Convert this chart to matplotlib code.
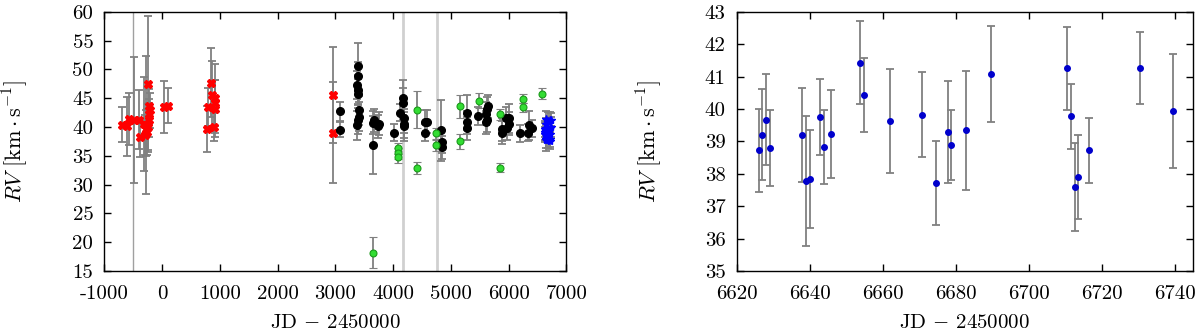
import numpy as np
import matplotlib
matplotlib.use('Agg')
import matplotlib.pyplot as plt

plt.rcParams['font.family'] = ['cmr10', 'DejaVu Serif']
plt.rcParams['mathtext.fontset'] = 'cm'
plt.rcParams['axes.formatter.use_mathtext'] = False
plt.rcParams['axes.unicode_minus'] = False
plt.rcParams['font.size'] = 15

# red (older measurements)
red_x = [-691, -610, -576, -496, -408, -381, -314, -301, -287, -274, -260, -247, -240,
         -234, -227, -220, -207, 29, 96, 782, 802, 849, 869, 903, 909, 916, 923, 2953, 2960]
red_y = [40.4, 40.1, 41.4, 41.2, 41.3, 38.2, 40.5, 38.6, 38.9, 40.3, 39.2, 47.4, 40.0,
         43.6, 41.2, 42.3, 42.9, 43.5, 43.7, 39.7, 43.4, 47.7, 45.5, 40.0, 44.1, 45.0, 43.2, 45.6, 39.0]
red_e = [3.0, 5.1, 4.5, 11.0, 5.2, 3.4, 8.2, 3.5, 4.0, 12.0, 4.0, 11.8, 4.0,
         3.0, 3.0, 2.5, 3.0, 4.5, 3.0, 4.0, 3.3, 6.0, 6.0, 2.5, 4.0, 6.0, 5.0, 8.3, 8.8]

# black
blk_x = [3088, 3088, 3385, 3390, 3380, 3395, 3385, 3400, 3405, 3395, 3380, 3652, 3652, 3668,
         3740, 3760, 4009, 4110, 4177, 4177, 4185, 4180, 4190, 4560, 4580, 4560,
         4836, 4849, 4849, 5286, 5286, 5286, 5467, 5602, 5629, 5642, 5609, 5622,
         5891, 5877, 5958, 5972, 6005, 6011, 6193, 6328, 6361, 6408]
blk_y = [42.7, 39.5, 50.6, 48.8, 47.3, 46.5, 45.8, 42.9, 41.8, 41.3, 40.3, 36.9, 40.7, 41.2,
         40.1, 40.6, 39.0, 42.5, 45.1, 44.2, 41.5, 40.6, 40.1, 40.9, 40.9, 39.0,
         39.4, 37.4, 36.5, 42.5, 40.8, 39.8, 41.9, 42.3, 43.2, 43.6, 40.8, 41.2,
         39.6, 39.0, 41.5, 39.8, 40.6, 41.5, 38.9, 39.0, 40.3, 39.8]
blk_e = [1.6, 1.3, 4.0, 2.5, 2.5, 2.5, 2.5, 2.5, 2.5, 2.5, 2.5, 5.0, 2.0, 2.0,
         2.0, 2.0, 1.5, 1.5, 3.0, 2.5, 2.5, 2.5, 2.5, 2.0, 2.0, 1.5,
         5.3, 2.0, 2.0, 3.0, 2.0, 2.0, 1.5, 2.0, 2.0, 2.0, 2.0, 2.0,
         2.0, 2.0, 2.0, 2.0, 2.0, 2.5, 1.5, 1.5, 2.5, 1.5]

# green
grn_x = [3652, 4083, 4083, 4083, 4412, 4412, 4748, 4748, 5151, 5151, 5488, 5858, 5858, 6241, 6241, 6583]
grn_y = [18.2, 36.3, 35.4, 34.8, 43.0, 32.9, 38.9, 36.8, 43.6, 37.5, 44.6, 42.2, 32.9, 44.9, 43.4, 45.8]
grn_e = [2.7, 1.0, 1.0, 1.0, 3.2, 1.0, 1.0, 1.0, 2.0, 1.3, 1.3, 1.0, 0.8, 0.8, 0.8, 0.9]

# blue (recent campaign, also shown in the right panel)
blu_x = [6626.0, 6627.0, 6628.0, 6629.0, 6637.9, 6638.9, 6640.0, 6642.9, 6643.9, 6645.9,
         6653.9, 6654.9, 6661.9, 6670.8, 6674.7, 6677.8, 6678.8, 6682.7, 6689.7,
         6710.5, 6711.5, 6712.6, 6713.5, 6716.5, 6730.5, 6739.5]
blu_y = [38.72, 39.21, 39.67, 38.80, 39.19, 37.77, 37.84, 39.75, 38.83, 39.23,
         41.43, 40.44, 39.63, 39.82, 37.71, 39.29, 38.88, 39.34, 41.08,
         41.26, 39.78, 37.59, 37.90, 38.73, 41.27, 39.95]
blu_e = [1.29, 1.41, 1.41, 1.17, 1.45, 2.0, 1.5, 1.18, 1.15, 1.35,
         1.28, 1.15, 1.62, 1.31, 1.30, 1.57, 1.08, 1.83, 1.47,
         1.28, 1.0, 1.37, 1.30, 1.0, 1.10, 1.76]

vlines_thin = [-510]
vlines_wide = [4173, 4758]

ylabel = r'$RV\ [\mathrm{km}\cdot\mathrm{s}^{-1}]$'
xlabel = r'JD $-$ 2450000'

fig = plt.figure(figsize=(12, 3.3), dpi=100)
ax1 = fig.add_axes([0.087, 0.179, 0.385, 0.785])
ax2 = fig.add_axes([0.614, 0.179, 0.380, 0.785])

ebkw = dict(ecolor='#808080', elinewidth=1.3, capsize=3, capthick=1.3, ls='none')

for v in vlines_thin:
    ax1.axvline(v, color='#a0a0a0', lw=1, zorder=0)
for v in vlines_wide:
    ax1.axvline(v, color='#d0d0d0', lw=2, zorder=0)

ax1.errorbar(red_x, red_y, yerr=red_e, marker='X', ms=6, mfc='#ff0000', mec='#ff0000', **ebkw)
ax1.errorbar(blk_x, blk_y, yerr=blk_e, marker='o', ms=5.5, mfc='black', mec='black', **ebkw)
ax1.errorbar(grn_x, grn_y, yerr=grn_e, marker='o', ms=5, mfc='#33dd33', mec='#1a9a1a', mew=0.8, **ebkw)
ax1.errorbar(blu_x, blu_y, yerr=blu_e, marker='*', ms=6, mfc='#0000ff', mec='#0000ff', **ebkw)

ax1.set_xlim(-1000, 7000)
ax1.set_ylim(15, 60)
ax1.set_xticks(np.arange(-1000, 7001, 1000))
ax1.set_yticks(np.arange(15, 61, 5))

ax2.errorbar(blu_x, blu_y, yerr=blu_e, marker='o', ms=4, mfc='#0000cc', mec='#0000cc', **ebkw)
ax2.set_xlim(6620, 6745)
ax2.set_ylim(35, 43)
ax2.set_xticks(np.arange(6620, 6741, 20))
ax2.set_yticks(np.arange(35, 44, 1))

for ax in (ax1, ax2):
    ax.tick_params(direction='in', top=True, right=True, length=5, width=1, labelsize=15)
    ax.tick_params(axis='x', pad=10)
    ax.tick_params(axis='y', pad=8)
    ax.set_xlabel(xlabel, fontsize=15)
    ax.set_ylabel(ylabel, fontsize=16)
    ax.xaxis.set_label_coords(0.5, -0.165)
    ax.yaxis.set_label_coords(-0.16, 0.5)
    for s in ax.spines.values():
        s.set_linewidth(1)

fig.savefig('out.png', dpi=100)
